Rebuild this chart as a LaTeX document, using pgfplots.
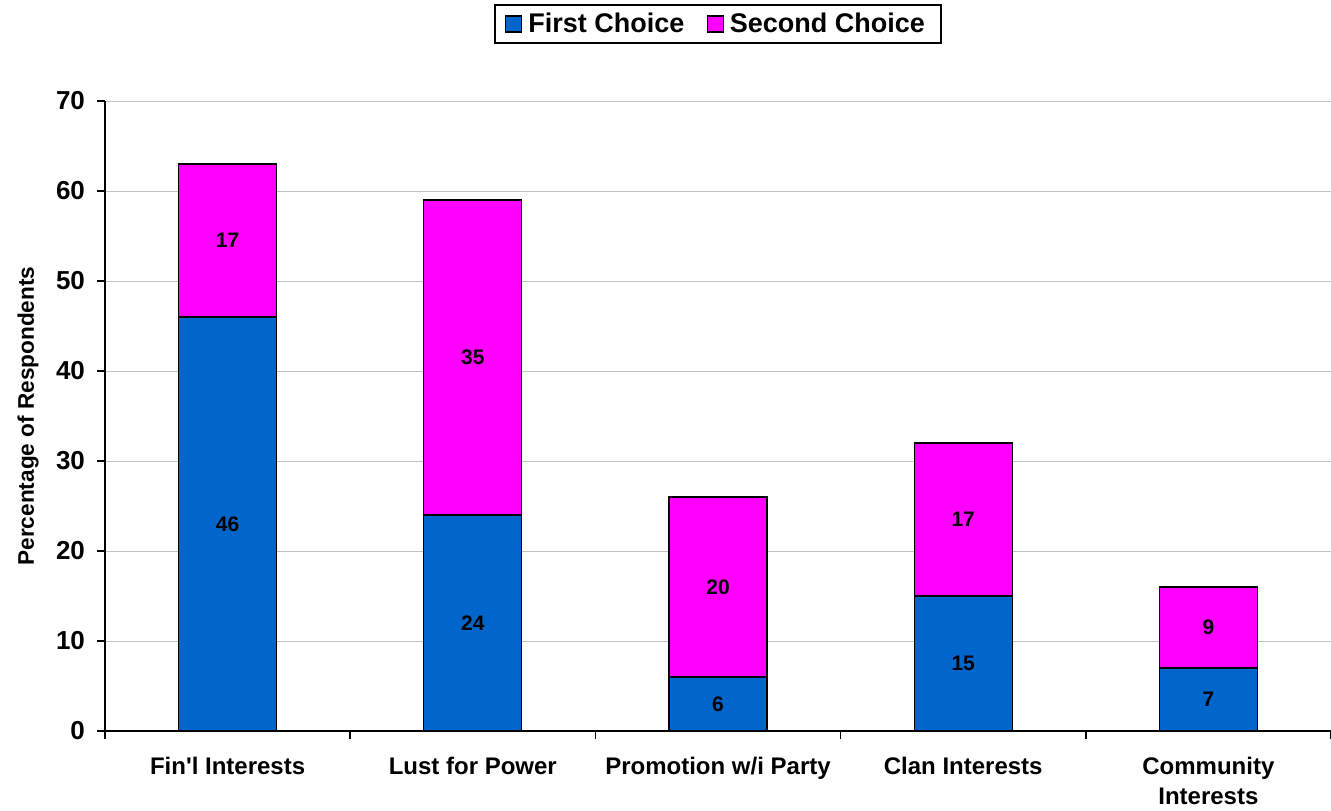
\documentclass[border=0pt]{standalone}
\usepackage{fontspec}
\setmainfont{Liberation Sans}
\usepackage{pgfplots}
\pgfplotsset{compat=1.18}
\definecolor{fc}{HTML}{0066CC}
\definecolor{sc}{HTML}{FF00FF}
\definecolor{gridc}{HTML}{C0C0C0}
\pgfplotsset{
  sqlegend/.style={legend image code/.code={\draw[##1,draw=black,line width=0.7pt] (0pt,-4pt) rectangle (8pt,4pt);}}
}
\begin{document}
\begin{tikzpicture}
\begin{axis}[
  at={(0,0)}, anchor=south west,
  scale only axis, width=613pt, height=315pt,
  ybar stacked, bar width=0.4,
  xmin=-0.5, xmax=4.5, ymin=0, ymax=70,
  axis x line*=bottom, axis y line*=left,
  axis line style={line width=0.8pt},
  tick align=outside, major tick length=4pt,
  tick style={black, line width=0.8pt},
  xtick={-0.5,0.5,1.5,2.5,3.5,4.5},
  xticklabels={},
  extra x ticks={0,1,2,3,4},
  extra x tick labels={Fin\textquotesingle l Interests, Lust for Power, Promotion w/i Party, Clan Interests, {Community\\Interests}},
  extra x tick style={major tick length=0pt, grid=none,
     xticklabel style={font=\fontsize{12}{15}\selectfont\bfseries, align=center, anchor=north, yshift=-9.5pt}},
  ytick={0,10,...,70},
  yticklabel style={font=\fontsize{13}{15}\selectfont\bfseries, xshift=-2.5pt},
  ymajorgrids, grid style={gridc, line width=0.5pt},
  ylabel={Percentage of Respondents},
  ylabel style={font=\fontsize{11.3}{13}\selectfont\bfseries, at={(axis description cs:-0.0628,0.5)}, anchor=center},
  /pgf/number format/assume math mode=true,
  legend columns=2,
  legend style={at={(0.5,1.122)}, anchor=center, draw=black, line width=1pt,
    font=\fontsize{13.5}{16}\selectfont\bfseries, inner xsep=5pt, inner ysep=2pt,
    /tikz/every even column/.append style={column sep=8pt},
    nodes={inner xsep=3pt}},
  point meta=rawy,
  nodes near coords,
  every node near coord/.append style={font=\fontsize{10.5}{12}\selectfont\bfseries, anchor=center},
]
\addplot[fill=fc, draw=black, line width=0.6pt, sqlegend] coordinates {(0,46) (1,24) (2,6) (3,15) (4,7)};
\addplot[fill=sc, draw=black, line width=0.6pt, sqlegend] coordinates {(0,17) (1,35) (2,20) (3,17) (4,9)};
\legend{First Choice, Second Choice}
\end{axis}
\pgfresetboundingbox
\useasboundingbox (-52.5pt,-39.5pt) rectangle (613pt,365.5pt);
\end{tikzpicture}
\end{document}
